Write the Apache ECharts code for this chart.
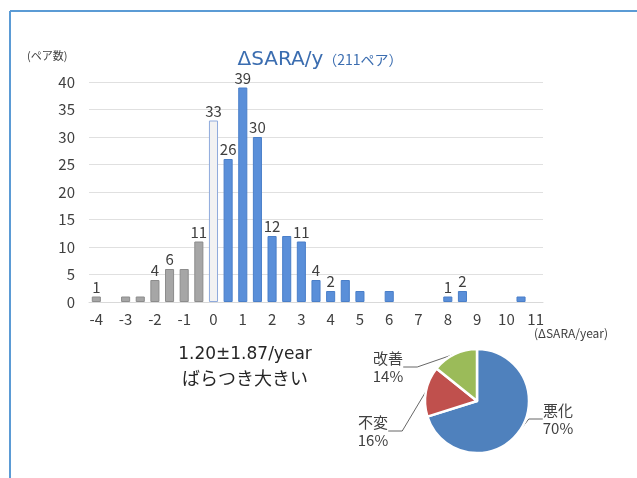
<!DOCTYPE html>
<html><head><meta charset="utf-8">
<script src="https://cdn.jsdelivr.net/npm/echarts@6/dist/echarts.min.js"></script>
<style>html,body{margin:0;padding:0;background:#fff}#c{width:637px;height:478px}</style>
</head><body><div id="c"></div>
<script>
const categories = ['-4','-3.5','-3','-2.5','-2','-1.5','-1','-0.5','0','0.5','1','1.5','2','2.5','3','3.5','4','4.5','5','5.5','6','6.5','7','7.5','8','8.5','9','9.5','10','10.5','11'];
const counts = [1,0,1,1,4,6,6,11,33,26,39,30,12,12,11,4,2,4,2,0,2,0,0,0,1,2,0,0,0,1,0];
const labeledCategories = ['-4','-2','-1.5','-0.5','0','0.5','1','1.5','2','3','3.5','4','8','8.5'];
const yTicks = [0,5,10,15,20,25,30,35,40];
const pieNames = ['悪化','不変','改善'];
const pieValues = [148,33,30];
const FONT = '"Noto Sans CJK JP", "Noto Sans", sans-serif';
const LATIN = '"DejaVu Sans", sans-serif';

const barData = categories.map((c, i) => {
  const v = parseFloat(c);
  let color = '#5A8FD9', border = '#4A7FC9';
  if (v < 0) { color = '#A6A6A6'; border = '#8C8C8C'; }
  else if (v === 0) { color = '#F2F2F2'; border = '#8FAADC'; }
  return {
    value: counts[i],
    itemStyle: { color, borderColor: border, borderWidth: counts[i] > 0 ? 1 : 0 },
    label: { show: labeledCategories.includes(c) }
  };
});

// label anchor positions for pie labels (layout only)
const pieLabelPos = [[558, 419], [373, 431], [388, 367]];

const chart = echarts.init(document.getElementById('c'), null, {renderer: 'canvas'});
chart.setOption({
  animation: false,
  textStyle: { fontFamily: FONT },
  graphic: [
    { type: 'line', shape: {x1: 10, y1: 11, x2: 637, y2: 11}, style: {stroke: '#5B9BD5', lineWidth: 2} },
    { type: 'line', shape: {x1: 10, y1: 11, x2: 10, y2: 478}, style: {stroke: '#5B9BD5', lineWidth: 2} },
    { type: 'text', left: 27, top: 50, style: { text: '(ペア数)', font: '11px ' + FONT, fill: '#404040' } },
    { type: 'text', left: 534, top: 327, style: { text: '(ΔSARA/year)', font: '12px ' + FONT, fill: '#404040' } },
    { type: 'text', x: 245, y: 355, style: { text: '1.20±1.87/year', font: '17px ' + LATIN, fill: '#262626', align: 'center', verticalAlign: 'middle' } },
    { type: 'text', x: 245, y: 378, style: { text: 'ばらつき大きい', font: '18px ' + FONT, fill: '#262626', align: 'center', verticalAlign: 'middle' } }
  ],
  title: {
    text: '{a|ΔSARA/y}{b|（211ペア）}',
    left: 315, top: 45, textAlign: 'center',
    textStyle: { rich: {
      a: { fontSize: 20, color: '#3B6DB0', fontFamily: LATIN, fontWeight: 'normal' },
      b: { fontSize: 14, color: '#3B6DB0', fontFamily: FONT, fontWeight: 'normal' }
    } }
  },
  grid: { left: 89, right: 94, top: 82, bottom: 176 },
  xAxis: {
    type: 'category', data: categories,
    axisTick: { show: false },
    axisLine: { lineStyle: { color: '#D9D9D9' } },
    axisLabel: { interval: 1, color: '#404040', fontSize: 15, margin: 10, fontFamily: FONT }
  },
  yAxis: {
    type: 'value', min: 0, max: 40, interval: 5,
    axisLine: { show: false }, axisTick: { show: false },
    splitLine: { lineStyle: { color: '#E0E0E0' } },
    axisLabel: { color: '#404040', fontSize: 15, margin: 14, fontFamily: FONT,
      formatter: v => yTicks.includes(v) ? String(v) : '' }
  },
  series: [
    {
      type: 'bar', data: barData, barCategoryGap: '38%',
      label: { position: 'top', distance: 2, color: '#404040', fontSize: 15, fontFamily: FONT }
    },
    {
      type: 'pie', center: [477, 401], radius: [0, 52], startAngle: 90, clockwise: true,
      data: pieNames.map((n, i) => ({
        name: n, value: pieValues[i],
        itemStyle: { color: ['#4F81BD', '#C0504D', '#9BBB59'][i], borderColor: '#fff', borderWidth: 2.5 }
      })),
      label: { formatter: p => p.name + '\n' + Math.round(p.percent) + '%', color: '#404040', fontSize: 15, lineHeight: 18, fontFamily: FONT, align: 'center' },
      labelLine: { show: true, length: 10, length2: 14, lineStyle: { color: '#404040', width: 0.8 } },
      labelLayout: p => ({ x: pieLabelPos[p.dataIndex][0], y: pieLabelPos[p.dataIndex][1], align: 'center', verticalAlign: 'middle' })
    }
  ]
});
</script></body></html>
